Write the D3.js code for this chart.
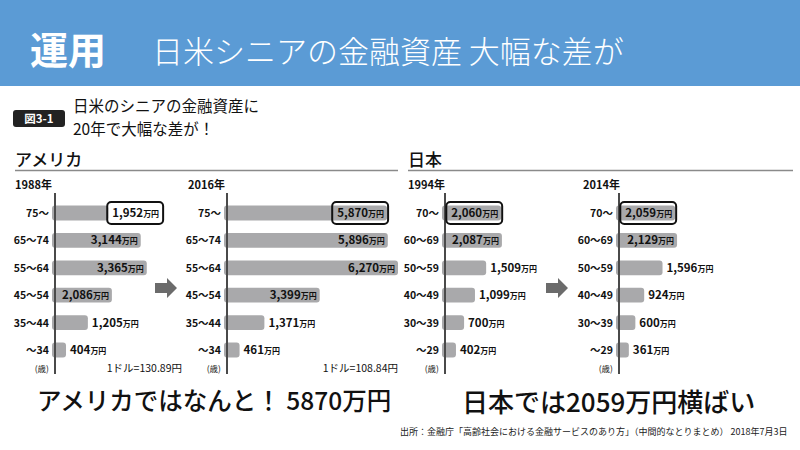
<!DOCTYPE html>
<html>
<head>
<meta charset="utf-8">
<script src="https://cdn.jsdelivr.net/npm/d3@7"></script>
<style>
  body { margin: 0; background: #fff; }
  svg { display: block; font-family: "Noto Sans CJK JP", "Noto Sans", sans-serif; }
</style>
</head>
<body>
<svg id="chart" width="800" height="450"></svg>
<script>
// data (万円)
const usAges = ['75〜', '65〜74', '55〜64', '45〜54', '35〜44', '〜34'];
const us1988 = [1952, 3144, 3365, 2086, 1205, 404];
const us2016 = [5870, 5896, 6270, 3399, 1371, 461];
const jpAges = ['70〜', '60〜69', '50〜59', '40〜49', '30〜39', '〜29'];
const jp1994 = [2060, 2087, 1509, 1099, 700, 402];
const jp2014 = [2059, 2129, 1596, 924, 600, 361];
const years = ['1988年', '2016年', '1994年', '2014年'];
const rates = ['1ドル=130.89円', '1ドル=108.84円'];

const svg = d3.select('#chart');

// header band
svg.append('rect').attr('x', 0).attr('y', 0).attr('width', 800).attr('height', 86).attr('fill', '#5b9bd5');
svg.append('text').attr('x', 30).attr('y', 64).attr('fill', '#fff')
    .attr('font-size', 38).attr('font-weight', 700).text('運用');
svg.append('text').attr('x', 152).attr('y', 63).attr('fill', '#fff')
    .attr('font-size', 31).attr('font-weight', 300).text('日米シニアの金融資産 大幅な差が');

// figure label + subtitle
svg.append('rect').attr('x', 13).attr('y', 110).attr('width', 52).attr('height', 17).attr('rx', 3).attr('fill', '#222');
svg.append('text').attr('x', 39).attr('y', 123).attr('text-anchor', 'middle').attr('fill', '#fff')
    .attr('font-size', 11.5).attr('font-weight', 700).text('図3-1');
svg.append('text').attr('x', 73).attr('y', 112).attr('font-size', 15.5).attr('fill', '#111').text('日米のシニアの金融資産に');
svg.append('text').attr('x', 73).attr('y', 135).attr('font-size', 15.5).attr('fill', '#111').text('20年で大幅な差が！');

// section titles
const sections = [{ label: 'アメリカ', x0: 15, x1: 398 }, { label: '日本', x0: 408, x1: 793 }];
sections.forEach(s => {
  svg.append('text').attr('x', s.x0).attr('y', 166).attr('font-size', 17).attr('font-weight', 500).attr('fill', '#111').text(s.label);
  svg.append('line').attr('x1', s.x0).attr('x2', s.x1).attr('y1', 170.5).attr('y2', 170.5)
      .attr('stroke', '#8a8a8a').attr('stroke-width', 1.5);
});

// shared scales
const x = d3.scaleLinear().domain([0, 6270]).range([0, 171]);
const yUS = d3.scaleBand().domain(usAges).range([193, 370]).padding(0.46);
const yJP = d3.scaleBand().domain(jpAges).range([193, 370]).padding(0.46);

const panels = [
  { ages: usAges, values: us1988, y: yUS, axisX: 55, yearX: 15, year: years[0], rate: rates[0], rateX: 182 },
  { ages: usAges, values: us2016, y: yUS, axisX: 227, yearX: 188, year: years[1], rate: rates[1], rateX: 398 },
  { ages: jpAges, values: jp1994, y: yJP, axisX: 445, yearX: 408, year: years[2] },
  { ages: jpAges, values: jp2014, y: yJP, axisX: 619, yearX: 583, year: years[3] }
];

panels.forEach(p => {
  const g = svg.append('g');
  const rows = p.ages.map((a, i) => ({ age: a, value: p.values[i], i: i }));

  g.append('text').attr('x', p.yearX).attr('y', 189).attr('font-size', 11).attr('font-weight', 700).attr('fill', '#111').text(p.year);

  // bars
  g.selectAll('.bar').data(rows).join('rect')
      .attr('class', 'bar')
      .attr('x', p.axisX - 3)
      .attr('y', d => p.y(d.age))
      .attr('width', d => x(d.value) + 3)
      .attr('height', p.y.bandwidth())
      .attr('rx', 3)
      .attr('fill', '#a9a9ab');

  // axis line
  g.append('line').attr('x1', p.axisX).attr('x2', p.axisX).attr('y1', 193).attr('y2', 374)
      .attr('stroke', '#4a4a4a').attr('stroke-width', 2);

  // category labels
  g.selectAll('.cat').data(rows).join('text')
      .attr('class', 'cat')
      .attr('x', p.axisX - 6)
      .attr('y', d => p.y(d.age) + p.y.bandwidth() / 2 + 4)
      .attr('text-anchor', 'end')
      .attr('font-size', 10.5).attr('font-weight', 700).attr('fill', '#111')
      .text(d => d.age);
  g.append('text').attr('x', p.axisX - 6).attr('y', 372).attr('text-anchor', 'end')
      .attr('font-size', 8.5).attr('fill', '#111').text('(歳)');

  // value labels
  const lbl = g.selectAll('.val').data(rows).join('text')
      .attr('class', 'val')
      .attr('x', d => d.value >= 2000 ? p.axisX + x(d.value) - 3 : p.axisX + x(d.value) + 4)
      .attr('y', d => p.y(d.age) + p.y.bandwidth() / 2 + 4)
      .attr('text-anchor', d => d.value >= 2000 ? 'end' : 'start')
      .attr('fill', '#111');
  lbl.append('tspan').attr('font-size', 11.5).attr('font-weight', 700).text(d => d3.format(',')(d.value));
  lbl.append('tspan').attr('font-size', 8).attr('font-weight', 700).text('万円');

  // highlight box on the oldest group
  const bb = lbl.filter(d => d.i === 0).node().getBBox();
  const cy = p.y(p.ages[0]) + p.y.bandwidth() / 2;
  g.append('rect').attr('x', bb.x - 5).attr('y', cy - 11).attr('width', bb.width + 9).attr('height', 22)
      .attr('rx', 4).attr('fill', 'none').attr('stroke', '#111').attr('stroke-width', 2);

  if (p.rate) {
    g.append('text').attr('x', p.rateX).attr('y', 372).attr('text-anchor', 'end')
        .attr('font-size', 10.5).attr('fill', '#111').text(p.rate);
  }
});

// block arrows between periods
[166, 557].forEach(cx => {
  const cy = 288;
  svg.append('path')
      .attr('d', `M${cx - 11},${cy - 5}H${cx + 1}V${cy - 10}L${cx + 11},${cy}L${cx + 1},${cy + 10}V${cy + 5}H${cx - 11}Z`)
      .attr('fill', '#6b6b6b');
});

// takeaways
svg.append('text').attr('x', 37).attr('y', 410).attr('font-size', 24.5).attr('font-weight', 500).attr('fill', '#111')
    .text('アメリカではなんと！ 5870万円');
svg.append('text').attr('x', 462).attr('y', 412).attr('font-size', 26).attr('font-weight', 500).attr('fill', '#111')
    .text('日本では2059万円横ばい');
svg.append('text').attr('x', 400).attr('y', 435).attr('font-size', 9).attr('fill', '#222')
    .text('出所：金融庁「高齢社会における金融サービスのあり方」（中間的なとりまとめ） 2018年7月3日');
</script>
</body>
</html>
